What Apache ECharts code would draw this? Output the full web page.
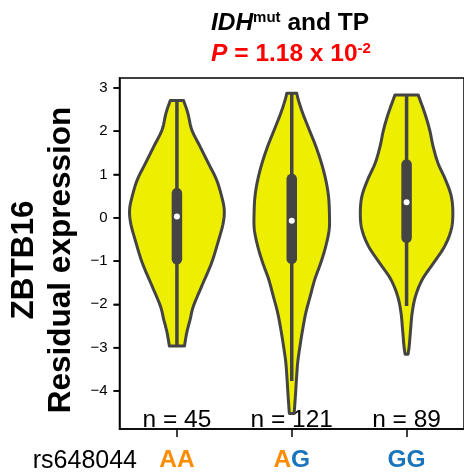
<!DOCTYPE html>
<html><head><meta charset="utf-8">
<script src="https://cdn.jsdelivr.net/npm/echarts@6/dist/echarts.min.js"></script>
<style>html,body{margin:0;padding:0;background:#fff}#c{width:464px;height:473px}</style>
</head><body><div id="c"></div>
<script>
// ---------- data ----------
const categories = ['AA', 'AG', 'GG'];
const sampleSizes = [45, 121, 89];
const snpName = 'rs648044';
const yTicks = [-4, -3, -2, -1, 0, 1, 2, 3];
const yAxisMin = -4.88, yAxisMax = 3.23;

// violin outlines: y values and half-widths (fraction of category band)
const violinAA_y = [2.71, 2.42, 2.03, 1.65, 1.26, 0.88, 0.50, 0.19, -0.12, -0.50, -1.04, -1.58, -2.04, -2.35, -2.65, -2.96];
const violinAA_w = [0.058, 0.095, 0.130, 0.201, 0.274, 0.345, 0.389, 0.412, 0.403, 0.365, 0.302, 0.216, 0.144, 0.115, 0.086, 0.066];
const violinAG_y = [2.88, 2.72, 2.42, 2.03, 1.65, 1.26, 0.88, 0.50, 0.11, -0.27, -0.66, -1.04, -1.42, -1.81, -2.19, -2.58, -2.96, -3.34, -3.73, -4.11, -4.52];
const violinAG_w = [0.043, 0.058, 0.095, 0.153, 0.210, 0.259, 0.296, 0.320, 0.328, 0.326, 0.296, 0.253, 0.201, 0.161, 0.123, 0.095, 0.072, 0.052, 0.041, 0.032, 0.021];
const violinGG_y = [2.84, 2.42, 2.03, 1.65, 1.26, 0.88, 0.50, 0.11, -0.27, -0.66, -1.04, -1.42, -1.81, -2.19, -2.58, -2.96, -3.15];
const violinGG_w = [0.101, 0.158, 0.201, 0.231, 0.274, 0.339, 0.389, 0.403, 0.389, 0.331, 0.236, 0.138, 0.078, 0.049, 0.035, 0.023, 0.013];

// box statistics
const whiskerLow  = [-2.96, -3.77, -2.04];
const whiskerHigh = [2.71, 2.88, 2.84];
const q1 = [-0.96, -0.95, -0.46];
const q3 = [0.57, 0.90, 1.23];
const medians = [0.03, -0.07, 0.36];

// ---------- chart ----------
const violinY = [violinAA_y, violinAG_y, violinGG_y];
const violinW = [violinAA_w, violinAG_w, violinGG_w];
const FONT = '"Liberation Sans", Arial, Helvetica, sans-serif';
const DARK = '#444444';

function catmull(pts, seg) {
  const out = [];
  const n = pts.length;
  for (let i = 0; i < n - 1; i++) {
    const p0 = pts[Math.max(0, i - 1)], p1 = pts[i], p2 = pts[i + 1], p3 = pts[Math.min(n - 1, i + 2)];
    for (let s = 0; s < seg; s++) {
      const t = s / seg, t2 = t * t, t3 = t2 * t;
      const f = (a, b, c, d) => 0.5 * ((2 * b) + (-a + c) * t + (2 * a - 5 * b + 4 * c - d) * t2 + (-a + 3 * b - 3 * c + d) * t3);
      out.push([f(p0[0], p1[0], p2[0], p3[0]), f(p0[1], p1[1], p2[1], p3[1])]);
    }
  }
  out.push(pts[n - 1]);
  return out;
}

function renderViolin(params, api) {
  const i = api.value(0);
  const band = api.size([1, 0])[0];
  const cx = api.coord([i, 0])[0];
  const ys = violinY[i], ws = violinW[i];
  const right = ys.map((y, k) => [cx + ws[k] * band, api.coord([i, y])[1]]);
  const rs = catmull(right, 10);
  const left = rs.map(p => [2 * cx - p[0], p[1]]).reverse();
  const poly = rs.concat(left);
  const top = api.coord([i, whiskerHigh[i]])[1], bot = api.coord([i, whiskerLow[i]])[1];
  const a = api.coord([i, q3[i]])[1], b = api.coord([i, q1[i]])[1];
  const m = api.coord([i, medians[i]])[1];
  return {
    type: 'group',
    children: [
      { type: 'polygon', shape: { points: poly }, style: { fill: '#EEEE00', stroke: DARK, lineWidth: 3, lineJoin: 'round' } },
      { type: 'line', shape: { x1: cx, y1: top, x2: cx, y2: bot }, style: { stroke: DARK, lineWidth: 3.5 } },
      { type: 'line', shape: { x1: cx, y1: a, x2: cx, y2: b }, style: { stroke: DARK, lineWidth: 10.5, lineCap: 'round' } },
      { type: 'circle', shape: { cx: cx, cy: m, r: 3 }, style: { fill: '#ffffff' } }
    ]
  };
}

// y-axis tick marks drawn through the y scale (robust against axis tick quirks)
function renderYTick(params, api) {
  const y = api.coord([0, api.value(1)])[1];
  const x0 = params.coordSys.x;
  return {
    type: 'line', silent: true,
    shape: { x1: x0 - 6, y1: y, x2: x0, y2: y },
    style: { stroke: '#000', lineWidth: 1.5 }
  };
}

const chart = echarts.init(document.getElementById('c'), null, { renderer: 'canvas' });
const ORANGE = '#FF8C00', BLUE = '#1874BC';

chart.setOption({
  animation: false,
  backgroundColor: '#ffffff',
  grid: [
    { left: 119.5, right: -3.4, top: 78, bottom: 43, show: true, borderColor: '#000', borderWidth: 1.5, backgroundColor: 'transparent' }
  ],
  xAxis: [
    {
      type: 'category', data: categories, position: 'bottom',
      axisLine: { onZero: false, lineStyle: { color: '#000', width: 1.5 } },
      axisTick: { show: true, alignWithLabel: true, length: 8, lineStyle: { color: '#000', width: 1.5 } },
      axisLabel: {
        margin: 19,
        formatter: v => v.split('').map(ch => ch === 'A' ? '{o|A}' : '{b|G}').join(''),
        rich: {
          o: { color: ORANGE, fontWeight: 'bold', fontSize: 24.5, fontFamily: FONT },
          b: { color: BLUE, fontWeight: 'bold', fontSize: 24.5, fontFamily: FONT }
        }
      }
    },
    {
      type: 'category', data: categories, position: 'bottom',
      axisLine: { show: false, onZero: false }, axisTick: { show: false },
      axisLabel: {
        inside: true, margin: -4, color: '#000', fontSize: 24.5, fontFamily: FONT,
        formatter: (v, idx) => 'n = ' + sampleSizes[idx]
      }
    }
  ],
  yAxis: [
    {
      type: 'value', min: yAxisMin, max: yAxisMax,
      axisLine: { show: true, lineStyle: { color: '#000', width: 1.5 } },
      axisTick: { show: true, length: 6, customValues: yTicks, lineStyle: { color: '#000', width: 1.5 } },
      axisLabel: { show: true, customValues: yTicks, color: '#000', fontSize: 15, fontFamily: FONT, margin: 12,
                   formatter: v => String(v).replace('-', '\u2212') },
      splitLine: { show: false }
    }
  ],
  series: [
    {
      type: 'custom', xAxisIndex: 0, yAxisIndex: 0,
      renderItem: renderViolin,
      encode: { x: 0, y: 1 },
      data: categories.map((c, i) => [i, medians[i]]),
      z: 5
    },
    {
      type: 'custom', xAxisIndex: 0, yAxisIndex: 0, silent: true, clip: false,
      renderItem: renderYTick,
      encode: { x: 0, y: 1 },
      data: yTicks.map(v => [0, v]),
      z: 6
    }
  ],
  graphic: [
    {
      type: 'text', x: 290, y: 23, z: 10,
      style: {
        text: '{i|IDH}{s|mut}{b| and TP}', align: 'center', verticalAlign: 'middle',
        rich: {
          i: { fontStyle: 'italic', fontWeight: 'bold', fontSize: 24.5, fontFamily: FONT, fill: '#000', lineHeight: 26 },
          s: { fontWeight: 'bold', fontSize: 15, fontFamily: FONT, fill: '#000', verticalAlign: 'top', lineHeight: 15 },
          b: { fontWeight: 'bold', fontSize: 24.5, fontFamily: FONT, fill: '#000', lineHeight: 26 }
        }
      }
    },
    {
      type: 'text', x: 291, y: 54, z: 10,
      style: {
        text: '{i|P}{b| = 1.18 x 10}{s|-2}', align: 'center', verticalAlign: 'middle',
        rich: {
          i: { fontStyle: 'italic', fontWeight: 'bold', fontSize: 24.5, fontFamily: FONT, fill: '#FF0000', lineHeight: 26 },
          s: { fontWeight: 'bold', fontSize: 15, fontFamily: FONT, fill: '#FF0000', verticalAlign: 'top', lineHeight: 15 },
          b: { fontWeight: 'bold', fontSize: 24.5, fontFamily: FONT, fill: '#FF0000', lineHeight: 26 }
        }
      }
    },
    {
      type: 'text', x: 24, y: 260, rotation: Math.PI / 2, z: 10,
      style: { text: 'ZBTB16', align: 'center', verticalAlign: 'middle', fontWeight: 'bold', fontSize: 31.5, fontFamily: FONT, fill: '#000' }
    },
    {
      type: 'text', x: 61, y: 260, rotation: Math.PI / 2, z: 10,
      style: { text: 'Residual expression', align: 'center', verticalAlign: 'middle', fontWeight: 'bold', fontSize: 31.5, fontFamily: FONT, fill: '#000' }
    },
    {
      type: 'text', x: 137, y: 461, z: 10,
      style: { text: snpName, align: 'right', verticalAlign: 'middle', fontSize: 25, fontFamily: FONT, fill: '#000' }
    }
  ]
});
</script>
</body></html>
